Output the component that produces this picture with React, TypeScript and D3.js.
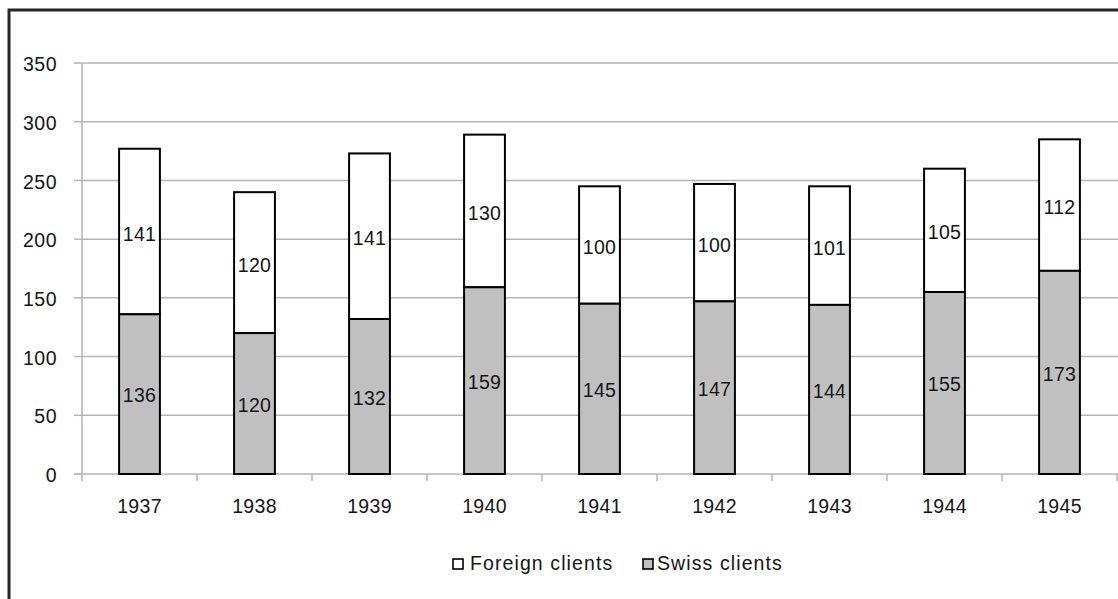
import * as d3 from 'd3';

const years = ['1937', '1938', '1939', '1940', '1941', '1942', '1943', '1944', '1945'];
const swissClients = [136, 120, 132, 159, 145, 147, 144, 155, 173];
const foreignClients = [141, 120, 141, 130, 100, 100, 101, 105, 112];
const yTicks = [0, 50, 100, 150, 200, 250, 300, 350];

const W = 1118;
const H = 599;
const font = '"Liberation Sans", Arial, sans-serif';
const ink = '#141414';
const gridColor = '#b5b5b5';
const swissFill = '#c0c0c0';

export default function App() {
  const x = d3.scaleBand<string>().domain(years).range([82, 82 + 115 * years.length]).padding(0);
  const y = d3.scaleLinear().domain([0, 350]).range([474, 63]);
  const barW = x.bandwidth() * 0.355;

  const stacked = years.map((yr, i) => ({
    year: yr,
    swiss: swissClients[i],
    foreign: foreignClients[i],
    cx: (x(yr) ?? 0) + x.bandwidth() / 2,
  }));

  return (
    <svg
      width={W}
      height={H}
      style={{ position: 'absolute', left: 0, top: 0, background: '#fff' }}
      fontFamily={font}
    >
      {/* outer frame, clipped on right and bottom */}
      <rect x={9} y={10} width={W + 20} height={H + 20} fill="#fff" stroke="#262626" strokeWidth={3} />

      {/* gridlines + y ticks */}
      {yTicks.map((t) => (
        <g key={t}>
          {t > 0 && <line x1={82} x2={W} y1={y(t)} y2={y(t)} stroke={gridColor} strokeWidth={1.5} />}
          <line x1={74} x2={82} y1={y(t)} y2={y(t)} stroke={gridColor} strokeWidth={1.5} />
          <text
            x={57}
            y={y(t) + 3}
            textAnchor="end"
            dominantBaseline="middle"
            fontSize={19.5}
            letterSpacing={0.5}
            fill={ink}
          >
            {t}
          </text>
        </g>
      ))}

      {/* axes */}
      <line x1={82} x2={82} y1={y(350)} y2={481} stroke={gridColor} strokeWidth={1.5} />
      <line x1={74} x2={W} y1={y(0)} y2={y(0)} stroke={gridColor} strokeWidth={1.5} />
      {years.map((yr) => (
        <line
          key={'t' + yr}
          x1={(x(yr) ?? 0) + x.bandwidth()}
          x2={(x(yr) ?? 0) + x.bandwidth()}
          y1={y(0)}
          y2={481}
          stroke={gridColor}
          strokeWidth={1.5}
        />
      ))}

      {/* bars */}
      {stacked.map((d) => (
        <g key={d.year}>
          <rect
            x={d.cx - barW / 2}
            y={y(d.swiss + d.foreign)}
            width={barW}
            height={y(d.swiss) - y(d.swiss + d.foreign)}
            fill="#fff"
            stroke="#000"
            strokeWidth={2}
          />
          <rect
            x={d.cx - barW / 2}
            y={y(d.swiss)}
            width={barW}
            height={y(0) - y(d.swiss)}
            fill={swissFill}
            stroke="#000"
            strokeWidth={2}
          />
          <text
            x={d.cx}
            y={(y(d.swiss) + y(d.swiss + d.foreign)) / 2 + 4}
            textAnchor="middle"
            dominantBaseline="middle"
            fontSize={19.5}
            letterSpacing={0.3}
            fill={ink}
          >
            {d.foreign}
          </text>
          <text
            x={d.cx}
            y={(y(0) + y(d.swiss)) / 2 + 3}
            textAnchor="middle"
            dominantBaseline="middle"
            fontSize={19.5}
            letterSpacing={0.3}
            fill={ink}
          >
            {d.swiss}
          </text>
          <text x={d.cx} y={508} textAnchor="middle" dominantBaseline="middle" fontSize={19.5} letterSpacing={0.3} fill={ink}>
            {d.year}
          </text>
        </g>
      ))}

      {/* legend */}
      <g>
        <rect x={453} y={559} width={10} height={10} fill="#fff" stroke="#000" strokeWidth={1.6} />
        <text x={470} y={565} dominantBaseline="middle" fontSize={19.5} letterSpacing={1.1} fill={ink}>
          Foreign clients
        </text>
        <rect x={643} y={559} width={10} height={10} fill={swissFill} stroke="#000" strokeWidth={1.6} />
        <text x={657} y={565} dominantBaseline="middle" fontSize={19.5} letterSpacing={1.1} fill={ink}>
          Swiss clients
        </text>
      </g>
    </svg>
  );
}
